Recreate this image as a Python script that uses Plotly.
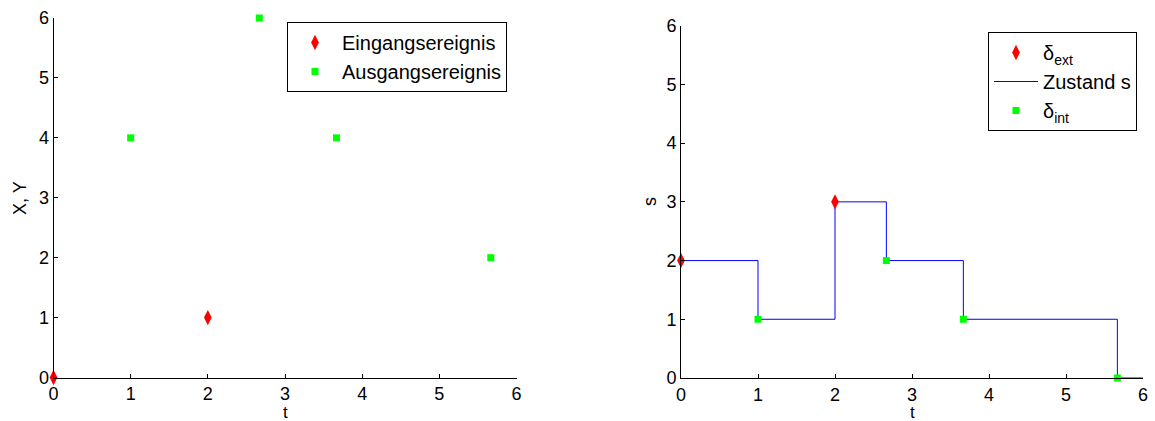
import plotly.graph_objects as go

# Data
ein_t = [0, 2]
ein_v = [0, 1]
aus_t = [1, 2.667, 3.667, 5.667]
aus_v = [4, 6, 4, 2]

ext_t = [0, 2]
ext_s = [2, 3]
state_t = [0, 1, 2, 2.667, 3.667, 5.667, 6]
state_s = [2, 1, 3, 2, 1, 0, 0]
int_t = [1, 2.667, 3.667, 5.667]
int_s = [1, 2, 1, 0]

ticks = [0, 1, 2, 3, 4, 5, 6]

W, H = 1155, 421
FAM = "Liberation Sans, Arial, sans-serif"
fig = go.Figure()

fig.add_trace(go.Scatter(x=ein_t, y=ein_v, mode="markers", name="Eingangsereignis",
                         marker=dict(symbol="diamond-tall", color="#ff0000", size=11),
                         cliponaxis=False, xaxis="x", yaxis="y", legend="legend", legendrank=1))
fig.add_trace(go.Scatter(x=aus_t, y=aus_v, mode="markers", name="Ausgangsereignis",
                         marker=dict(symbol="square", color="#00ff00", size=7),
                         cliponaxis=False, xaxis="x", yaxis="y", legend="legend", legendrank=2))

fig.add_trace(go.Scatter(x=state_t, y=state_s, mode="lines", name="Zustand s",
                         line=dict(shape="hv", color="#0000ff", width=1),
                         cliponaxis=False, xaxis="x2", yaxis="y2", legend="legend2", legendrank=2))
fig.add_trace(go.Scatter(x=ext_t, y=ext_s, mode="markers", name="δ<sub>ext</sub>",
                         marker=dict(symbol="diamond-tall", color="#ff0000", size=11),
                         cliponaxis=False, xaxis="x2", yaxis="y2", legend="legend2", legendrank=1))
fig.add_trace(go.Scatter(x=int_t, y=int_s, mode="markers", name="δ<sub>int</sub>",
                         marker=dict(symbol="square", color="#00ff00", size=7),
                         cliponaxis=False, xaxis="x2", yaxis="y2", legend="legend2", legendrank=3))

tickfont = dict(family=FAM, size=18, color="#000")
titlefont = dict(family=FAM, size=18, color="#000")
axis_common = dict(range=[0, 6], tickvals=ticks, ticks="inside", ticklen=4,
                   tickcolor="#000", showline=True, linecolor="#000", linewidth=1,
                   showgrid=False, zeroline=False, tickfont=tickfont, mirror=False,
                   automargin=False)


def ann(text, x, y, angle=0, size=18, height=None):
    d = dict(text=text, x=x / W, y=1 - y / H, xref="paper", yref="paper",
             xanchor="center", yanchor="middle", showarrow=False, borderpad=0,
             font=dict(family=FAM, size=size, color="#000"), textangle=angle)
    if height:
        d["height"] = height
    return d


fig.update_layout(
    width=W, height=H,
    margin=dict(l=0, r=0, t=0, b=0),
    paper_bgcolor="white", plot_bgcolor="white",
    font=dict(family=FAM, size=16, color="#000"),
    xaxis=dict(axis_common, domain=[53.5 / W, 516.5 / W], anchor="y"),
    yaxis=dict(axis_common, domain=[1 - 377.5 / H, 1 - 18 / H], anchor="x"),
    xaxis2=dict(axis_common, domain=[681 / W, 1143 / W], anchor="y2"),
    yaxis2=dict(axis_common, domain=[1 - 378 / H, 1 - 25.7 / H], anchor="x2"),
    annotations=[
        ann("t", 285, 412.5, size=17, height=17),
        ann("X, Y", 20, 198, -90),
        ann("t", 912, 412.5, size=17, height=17),
        ann("s", 650, 202, -90),
    ],
    legend=dict(x=287 / W, y=1 - 22 / H, xanchor="left", yanchor="top",
                bordercolor="#000", borderwidth=1, bgcolor="white",
                font=dict(family=FAM, size=20), traceorder="normal",
                tracegroupgap=0, itemwidth=44),
    legend2=dict(x=988 / W, y=1 - 32 / H, xanchor="left", yanchor="top",
                 bordercolor="#000", borderwidth=1, bgcolor="white",
                 font=dict(family=FAM, size=20), traceorder="normal",
                 tracegroupgap=0, itemwidth=44),
    showlegend=True,
)

fig.write_html("out.html")
